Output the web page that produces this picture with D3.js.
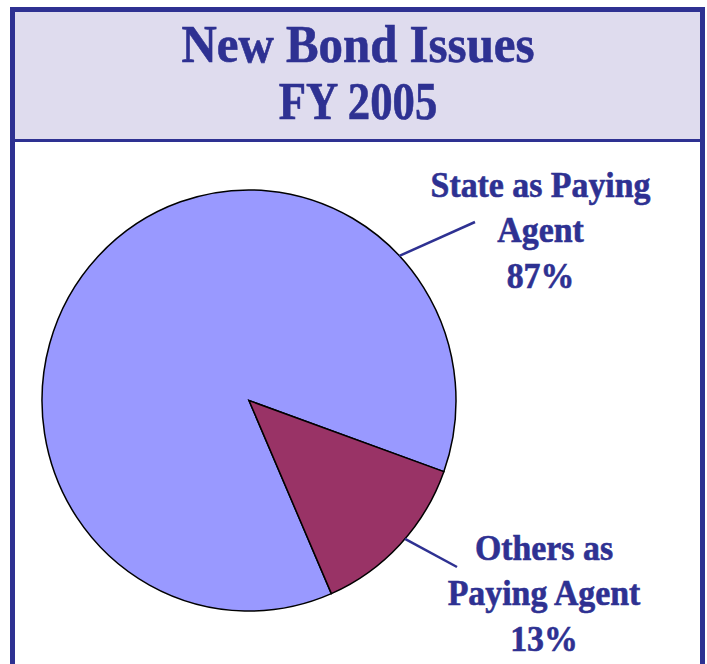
<!DOCTYPE html>
<html>
<head>
<meta charset="utf-8">
<script src="https://cdn.jsdelivr.net/npm/d3@7"></script>
<style>
  body { margin: 0; background: #ffffff; }
  text { font-family: "Liberation Serif", "Times New Roman", serif; font-weight: bold; fill: #2e3192; stroke: #2e3192; stroke-width: 0.6px; }
</style>
</head>
<body>
<div id="chart"></div>
<script>
// chart data
var titleLines = ["New Bond Issues", "FY 2005"];
var categories = ["State as Paying Agent", "Others as Paying Agent"];
var values = [87, 13];
var labelLines = [["State as Paying", "Agent", "87%"], ["Others as", "Paying Agent", "13%"]];

var navy = "#2e3192";
var colors = d3.scaleOrdinal().domain(categories).range(["#9999ff", "#993366"]);

var fullwidth = 707, fullheight = 664;

var svg = d3.select("#chart")
  .append("svg")
    .attr("width", fullwidth)
    .attr("height", fullheight);

// frame + title band
svg.append("rect")
  .attr("x", 12.5).attr("y", 9.5)
  .attr("width", 690).attr("height", 131)
  .style("fill", "#dfdcee");
svg.append("rect")
  .attr("x", 12.5).attr("y", 9.5)
  .attr("width", 690).attr("height", 680)
  .style("fill", "none")
  .style("stroke", navy)
  .style("stroke-width", 5);
svg.append("line")
  .attr("x1", 12).attr("x2", 703)
  .attr("y1", 140.5).attr("y2", 140.5)
  .style("stroke", navy)
  .style("stroke-width", 3);

var titleY = [62, 119];
svg.selectAll(".title")
  .data(titleLines)
  .enter()
  .append("text")
    .attr("class", "title")
    .attr("text-anchor", "middle")
    .attr("transform", function(d, i) { return "translate(358," + titleY[i] + ") scale(" + (i == 0 ? 0.94 : 0.86) + ",1)"; })
    .style("font-size", "52px")
    .text(function(d) { return d; });

// pie
var cx = 249, cy = 400.5, radius = 207;
var start = 156.55 * Math.PI / 180;
var pie = d3.pie()
  .sort(null)
  .startAngle(start)
  .endAngle(start + 2 * Math.PI);
var arc = d3.arc().innerRadius(0).outerRadius(radius);

var pieData = pie(values);

var g = svg.append("g")
  .attr("transform", "translate(" + cx + "," + cy + ") scale(1,1.017)");

g.selectAll("path")
  .data(pieData)
  .enter()
  .append("path")
    .attr("d", arc)
    .style("fill", function(d, i) { return colors(categories[i]); })
    .style("stroke", "#000000")
    .style("stroke-width", 1.5)
    .style("stroke-linejoin", "miter");

// leader lines (anchor angle on rim, label end point)
var leaderAngle = [46.6, 131.1];
var leaderEnd = [[475, 222], [457, 567]];
svg.selectAll(".leader")
  .data(pieData)
  .enter()
  .append("line")
    .attr("class", "leader")
    .attr("x1", function(d, i) { return cx + radius * Math.sin(leaderAngle[i] * Math.PI / 180); })
    .attr("y1", function(d, i) { return cy - radius * 1.017 * Math.cos(leaderAngle[i] * Math.PI / 180); })
    .attr("x2", function(d, i) { return leaderEnd[i][0]; })
    .attr("y2", function(d, i) { return leaderEnd[i][1]; })
    .style("stroke", navy)
    .style("stroke-width", 2.5);

// labels
var labelX = [540.5, 544];
var labelY = [197, 560];
var labelGroups = svg.selectAll(".label")
  .data(labelLines)
  .enter()
  .append("g")
    .attr("class", "label")
    .attr("transform", function(d, i) { return "translate(" + labelX[i] + "," + labelY[i] + ") scale(0.94,1)"; });

labelGroups.selectAll("text")
  .data(function(d) { return d; })
  .enter()
  .append("text")
    .attr("text-anchor", "middle")
    .attr("y", function(d, j) { return j * 45.5; })
    .style("font-size", "36px")
    .text(function(d) { return d; });
</script>
</body>
</html>
